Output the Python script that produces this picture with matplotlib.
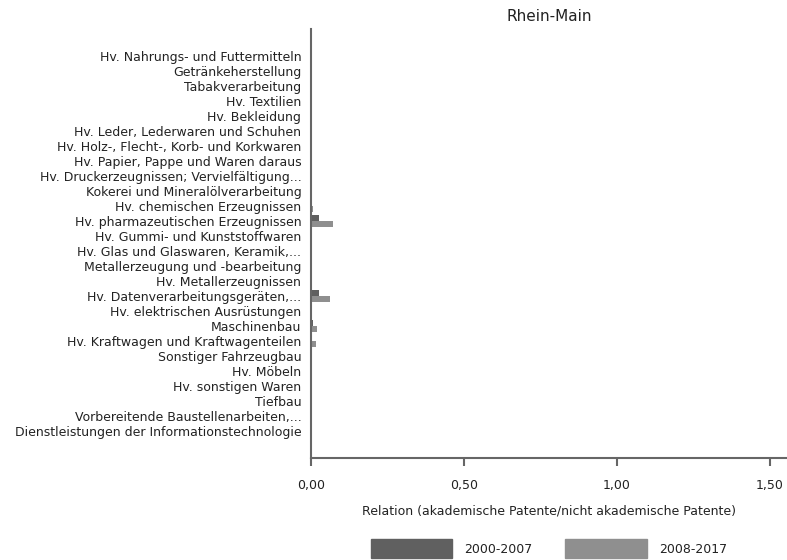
import numpy as np
import matplotlib.pyplot as plt
from matplotlib.patches import Patch

## Daten
categories = [
    "Hv. Nahrungs- und Futtermitteln",
    "Getränkeherstellung",
    "Tabakverarbeitung",
    "Hv. Textilien",
    "Hv. Bekleidung",
    "Hv. Leder, Lederwaren und Schuhen",
    "Hv. Holz-, Flecht-, Korb- und Korkwaren",
    "Hv. Papier, Pappe und Waren daraus",
    "Hv. Druckerzeugnissen; Vervielfältigung...",
    "Kokerei und Mineralölverarbeitung",
    "Hv. chemischen Erzeugnissen",
    "Hv. pharmazeutischen Erzeugnissen",
    "Hv. Gummi- und Kunststoffwaren",
    "Hv. Glas und Glaswaren, Keramik,...",
    "Metallerzeugung und -bearbeitung",
    "Hv. Metallerzeugnissen",
    "Hv. Datenverarbeitungsgeräten,...",
    "Hv. elektrischen Ausrüstungen",
    "Maschinenbau",
    "Hv. Kraftwagen und Kraftwagenteilen",
    "Sonstiger Fahrzeugbau",
    "Hv. Möbeln",
    "Hv. sonstigen Waren",
    "Tiefbau",
    "Vorbereitende Baustellenarbeiten,...",
    "Dienstleistungen der Informationstechnologie",
]
vals_2000_2007 = [0, 0, 0, 0, 0, 0, 0, 0, 0, 0, 0.003, 0.026, 0, 0, 0, 0,
                  0.026, 0, 0.006, 0, 0, 0, 0, 0, 0, 0]
vals_2008_2017 = [0, 0, 0, 0, 0, 0, 0, 0, 0, 0, 0.007, 0.072, 0, 0, 0, 0,
                  0.062, 0, 0.020, 0.016, 0, 0, 0, 0, 0, 0]
series_labels = ["2000-2007", "2008-2017"]
x_ticks = [0.0, 0.5, 1.0, 1.5]
x_tick_labels = ["0,00", "0,50", "1,00", "1,50"]

COL_DARK = "#606060"
COL_LIGHT = "#8f8f8f"
AXIS_COL = "#666666"
TEXT_COL = "#222222"

plt.rcParams['font.family'] = ['DejaVu Sans']

fig = plt.figure(figsize=(7.87, 5.6), dpi=100)
ax = fig.add_axes([311 / 787, 102 / 560, 476 / 787, 429 / 560])

y = np.arange(len(categories))
h = 0.37
ax.barh(y - h / 2, vals_2000_2007, height=h, color=COL_DARK)
ax.barh(y + h / 2, vals_2008_2017, height=h, color=COL_LIGHT)

ax.set_ylim(len(categories) - 1 + 1.8, -1.8)
ax.set_xlim(0, 476 / 306)

ax.set_yticks(y)
ax.set_yticklabels(categories, fontsize=9, color=TEXT_COL)
ax.tick_params(axis='y', length=0, pad=7)

ax.set_xticks(x_ticks)
ax.set_xticklabels(x_tick_labels, fontsize=9, color=TEXT_COL)
ax.tick_params(axis='x', length=6, width=1.5, color=AXIS_COL, pad=9)

for s in ['top', 'right']:
    ax.spines[s].set_visible(False)
for s in ['left', 'bottom']:
    ax.spines[s].set_color(AXIS_COL)
    ax.spines[s].set_linewidth(1.5)

ax.set_xlabel("Relation (akademische Patente/nicht akademische Patente)",
              fontsize=9, color=TEXT_COL, labelpad=9)
ax.set_title("Rhein-Main", fontsize=11, color=TEXT_COL, pad=6)

handles = [Patch(color=COL_DARK), Patch(color=COL_LIGHT)]
fig.legend(handles, series_labels, loc='upper center', bbox_to_anchor=(549 / 787, 21 / 560),
           ncol=2, frameon=False, fontsize=9, handlelength=6.5, handleheight=2.0,
           handletextpad=1.0, columnspacing=2.6, borderpad=0, borderaxespad=0,
           labelcolor=TEXT_COL)

plt.savefig("out.png", dpi=100)
